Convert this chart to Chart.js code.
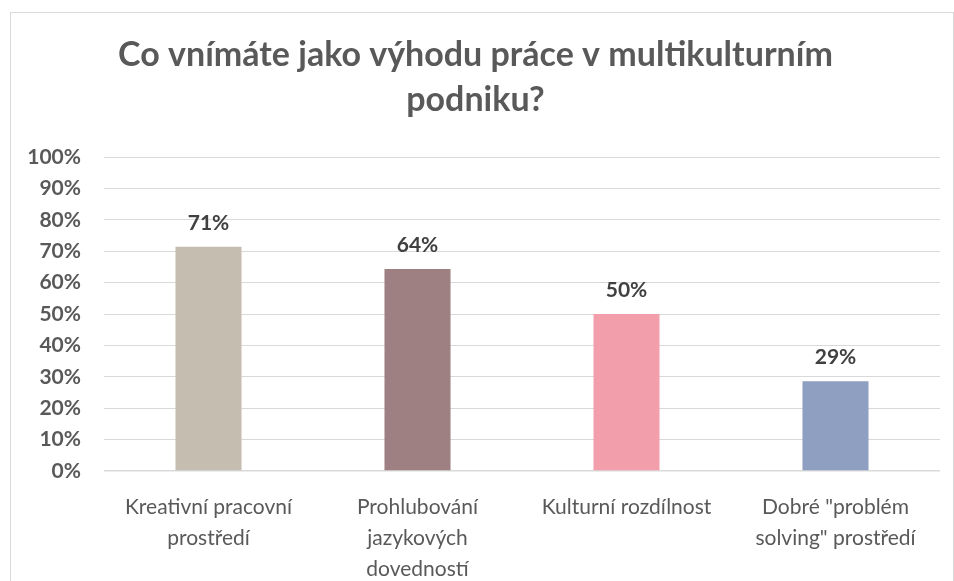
<!DOCTYPE html>
<html>
<head>
<meta charset="utf-8">
<script src="https://cdn.jsdelivr.net/npm/chart.js@4.4.1/dist/chart.umd.min.js"></script>
<style>
  html, body { margin: 0; padding: 0; background: #fff; overflow: hidden; }
  #frame {
    position: absolute; left: 10px; top: 12px;
    width: 942px; height: 600px;
    border: 1px solid #d9d9d9;
  }
  #chart { display: block; }
</style>
</head>
<body>
<div id="frame">
  <canvas id="chart" width="942" height="568"></canvas>
</div>
<script>
// data (share of respondents)
const categories = [
    ['Kreativní pracovní', 'prostředí'],
    ['Prohlubování', 'jazykových', 'dovedností'],
    ['Kulturní rozdílnost'],
    ['Dobré "problém', 'solving" prostředí']
];
const shares = [0.714, 0.643, 0.50, 0.286];
const barColors = ['#c5beb0', '#9e7f82', '#f29fab', '#8f9fc2'];
const yTicks = [0, 0.1, 0.2, 0.3, 0.4, 0.5, 0.6, 0.7, 0.8, 0.9, 1.0];

const textGray = '#595959';

// draws the percentage above each bar
const valueLabels = {
    id: 'valueLabels',
    afterDatasetsDraw(chart) {
        const ctx = chart.ctx;
        const meta = chart.getDatasetMeta(0);
        ctx.save();
        ctx.font = 'bold 21px Lato';
        ctx.fillStyle = '#404040';
        ctx.textAlign = 'center';
        ctx.textBaseline = 'middle';
        meta.data.forEach((bar, i) => {
            const v = chart.data.datasets[0].data[i];
            ctx.fillText(Math.round(v * 100) + '%', bar.x, bar.y - 24);
        });
        ctx.restore();
    }
};

const ctx = document.getElementById('chart').getContext('2d');
new Chart(ctx, {
    type: 'bar',
    data: {
        labels: categories,
        datasets: [{
            data: shares,
            backgroundColor: barColors,
            categoryPercentage: 1.0,
            barPercentage: 0.316
        }]
    },
    options: {
        responsive: false,
        animation: false,
        layout: { padding: { left: 0, right: 13, top: 0, bottom: 0 } },
        plugins: {
            legend: { display: false },
            tooltip: { enabled: false },
            title: {
                display: true,
                text: ['Co vnímáte jako výhodu práce v multikulturním', 'podniku?'],
                color: textGray,
                font: { family: 'Lato', size: 34, weight: 'bold', lineHeight: '45px' },
                padding: { top: 20, bottom: 34 }
            }
        },
        scales: {
            x: {
                grid: { display: false },
                border: { display: false },
                ticks: {
                    color: textGray,
                    font: { family: 'Lato', size: 21, lineHeight: '31px' },
                    padding: 13,
                    autoSkip: false,
                    maxRotation: 0
                },
                afterFit(axis) { axis.height = 110; }
            },
            y: {
                min: 0,
                max: 1,
                afterBuildTicks(axis) { axis.ticks = yTicks.map(v => ({ value: v })); },
                grid: {
                    color: '#d9d9d9',
                    lineWidth: c => (c.index === 0 ? 1.5 : 1),
                    drawTicks: false
                },
                border: { display: false },
                ticks: {
                    color: textGray,
                    font: { family: 'Lato', size: 21, weight: 'bold' },
                    padding: 23,
                    callback: v => Math.round(v * 100) + '%'
                },
                afterFit(axis) { axis.width = 93; }
            }
        }
    },
    plugins: [valueLabels]
});
</script>
</body>
</html>
